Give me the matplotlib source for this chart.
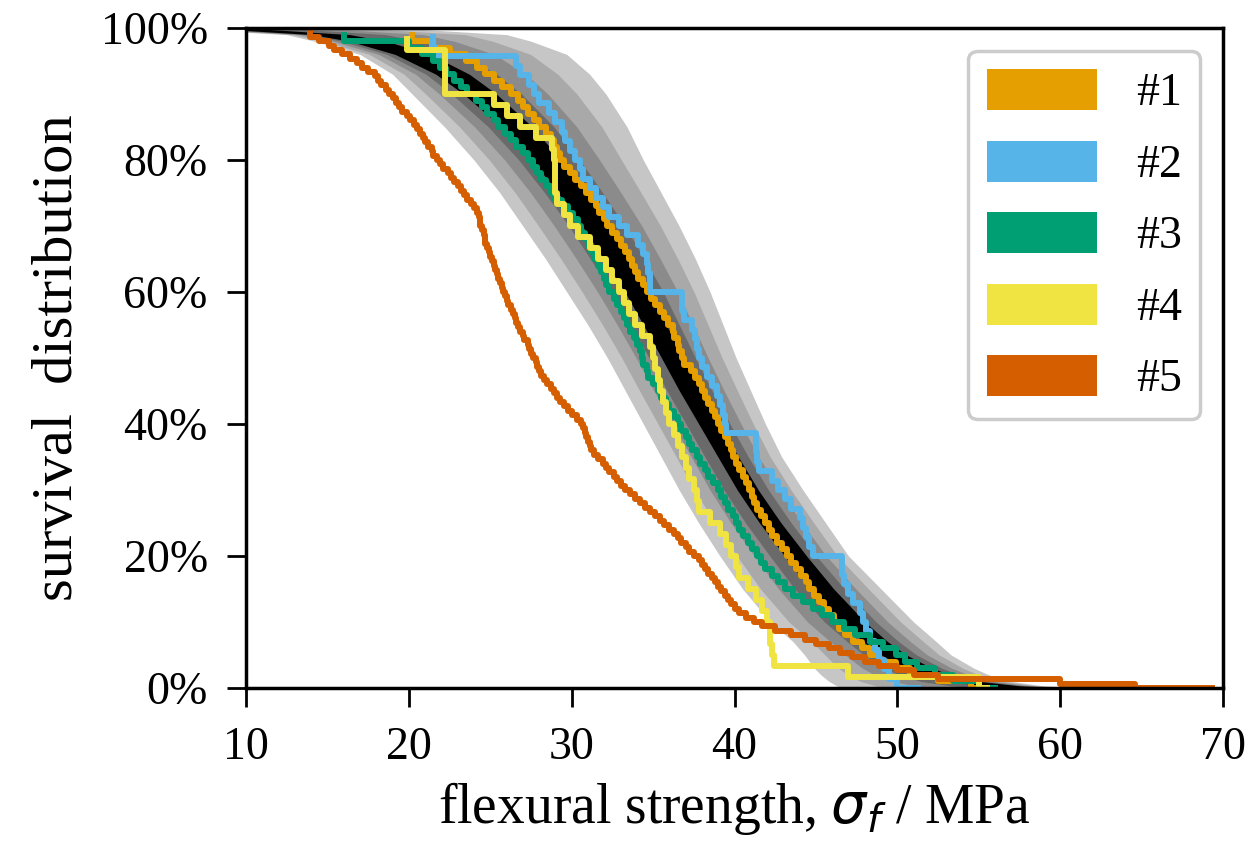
"""Survival distribution of flexural strength for five sample series,
drawn over grey Weibull confidence bands."""

import matplotlib

matplotlib.use("Agg")
import matplotlib.pyplot as plt
import numpy as np
from matplotlib.patches import Patch
from matplotlib.ticker import PercentFormatter

plt.rcParams["font.family"] = ["Liberation Serif", "DejaVu Serif"]
plt.rcParams["mathtext.fontset"] = "dejavusans"

# ---- confidence bands (x read at fixed survival levels) --------------------------
band_levels = [0.999, 0.99, 0.98, 0.96, 0.93, 0.90, 0.85, 0.80, 0.75, 0.70, 0.65, 0.60,
               0.55, 0.50, 0.45, 0.40, 0.35, 0.30, 0.25, 0.20, 0.15, 0.10, 0.07, 0.05,
               0.03, 0.02, 0.01, 0.003, 0.001]
band_center = [8.7, 14.4, 16.8, 19.6, 22.2, 24.0, 26.4, 28.3, 29.9, 31.4, 32.7, 34.0,
               35.1, 36.2, 37.3, 38.5, 39.7, 40.9, 42.3, 43.9, 45.5, 47.4, 48.8, 50.0,
               51.6, 52.8, 54.6, 57.3, 59.5]
band_upper = [20.0, 26.0, 27.5, 29.7, 31.1, 32.1, 33.4, 34.4, 35.5, 36.6, 37.6, 38.5,
              39.3, 40.1, 41.0, 41.9, 42.9, 44.2, 45.6, 47.0, 49.0, 51.0, 52.4, 53.3,
              54.7, 55.6, 57.0, 59.0, 61.0]
band_lower = [6.0, 12.5, 14.2, 17.0, 19.0, 20.2, 22.2, 24.0, 25.6, 27.0, 28.4, 29.7,
              31.0, 32.2, 33.3, 34.4, 35.5, 36.6, 37.8, 39.1, 40.5, 42.2, 43.6, 44.3,
              44.9, 45.3, 45.8, 46.3, 46.6]

# ---- measured strengths per series (MPa, sorted) ---------------------------------
series_labels = ["#1", "#2", "#3", "#4", "#5"]

strength_1 = [20.2, 21.4, 22.5, 23.5, 24.2, 24.7, 25.2, 25.7, 26.3,
              26.7, 27.0, 27.3, 27.7, 28.0, 28.4, 28.7, 28.9, 29.1, 29.3,
              29.5, 29.9, 30.2, 30.6, 30.9, 31.2, 31.5, 31.7, 32.0, 32.2,
              32.5, 32.8, 33.0, 33.3, 33.5, 33.7, 33.9, 34.1, 34.4, 34.6,
              34.9, 35.1, 35.4, 35.7, 35.9, 36.2, 36.3, 36.5, 36.6, 36.8,
              36.9, 37.3, 37.6, 37.8, 38.0, 38.2, 38.4, 38.6, 38.8, 39.0,
              39.2, 39.4, 39.6, 39.8, 39.9, 40.1, 40.3, 40.5, 40.7, 40.9,
              41.1, 41.2, 41.4, 41.6, 41.9, 42.1, 42.3, 42.6, 42.9, 43.2,
              43.5, 43.8, 44.1, 44.4, 44.6, 44.9, 45.2, 45.5, 45.8, 46.1,
              46.4, 46.8, 47.3, 47.8, 48.3, 48.9, 49.9, 50.8, 52.5, 54.5, 55.5]

strength_2 = [21.5, 21.6, 26.6, 26.8, 27.4, 27.7, 28.0, 28.6, 29.0,
              29.4, 29.6, 29.9, 30.2, 30.5, 30.7, 31.1, 31.5, 31.9, 32.3,
              32.9, 33.4, 34.1, 34.4, 34.6, 34.7, 34.8, 34.8, 36.8, 36.8,
              36.9, 37.4, 37.6, 37.7, 37.8, 38.0, 38.3, 38.6, 38.9, 39.1,
              39.3, 39.4, 39.5, 41.3, 41.3, 41.4, 41.5, 42.3, 42.7, 43.1,
              43.5, 44.0, 44.2, 44.4, 44.6, 44.8, 46.6, 46.6, 46.7, 47.0,
              47.3, 47.7, 47.9, 48.1, 48.3, 48.6, 48.9, 49.2, 49.5, 50.0, 51.3]

strength_3 = [16.0, 20.0, 20.8, 21.5, 21.9, 22.3, 22.8, 23.2, 23.6,
              24.1, 24.5, 24.8, 25.2, 25.5, 25.9, 26.3, 26.6, 27.0, 27.3,
              27.6, 27.9, 28.1, 28.4, 28.7, 29.0, 29.4, 29.8, 30.1, 30.4,
              30.6, 30.8, 31.0, 31.2, 31.4, 31.6, 31.8, 32.0, 32.1, 32.3,
              32.6, 32.8, 33.0, 33.2, 33.4, 33.6, 33.8, 34.0, 34.2, 34.3,
              34.4, 34.6, 34.7, 35.0, 35.3, 35.5, 35.8, 36.0, 36.3, 36.5,
              36.7, 37.0, 37.2, 37.4, 37.7, 37.9, 38.2, 38.4, 38.7, 39.0,
              39.2, 39.4, 39.6, 39.9, 40.1, 40.3, 40.5, 40.8, 41.1, 41.4,
              41.6, 41.9, 42.3, 42.7, 43.1, 43.6, 44.2, 44.8, 45.4, 46.0,
              46.7, 47.4, 48.3, 49.1, 49.9, 50.5, 51.2, 52.3, 53.4, 55.0, 56.0]

strength_4 = [19.9, 22.2, 22.2, 22.2, 22.2, 25.2, 26.0, 26.8, 27.8,
              28.8, 28.9, 29.0, 29.0, 29.0, 29.1, 29.5, 29.9, 30.4, 31.1,
              31.6, 32.1, 32.5, 32.9, 33.2, 33.5, 33.9, 34.3, 34.8, 35.0,
              35.1, 35.3, 35.4, 35.6, 35.8, 36.0, 36.3, 36.5, 36.8, 37.0,
              37.2, 37.5, 37.7, 37.8, 38.5, 39.1, 39.5, 39.8, 40.1, 40.3,
              40.8, 41.3, 41.7, 42.0, 42.2, 42.2, 42.3, 42.4, 47.0, 55.0, 55.5]

strength_5 = [13.9, 14.5, 15.1, 15.4, 15.9, 16.4, 16.8, 17.1, 17.5, 17.9,
              18.1, 18.3, 18.6, 18.8, 19.0, 19.2, 19.4, 19.6, 19.9, 20.1,
              20.3, 20.5, 20.7, 20.9, 21.0, 21.2, 21.4, 21.5, 21.7, 21.9,
              22.1, 22.4, 22.6, 22.8, 23.0, 23.2, 23.4, 23.6, 23.8, 24.0,
              24.2, 24.3, 24.4, 24.4, 24.5, 24.6, 24.7, 24.7, 24.8, 24.9,
              25.0, 25.1, 25.2, 25.3, 25.4, 25.5, 25.6, 25.7, 25.8, 25.9,
              26.0, 26.1, 26.3, 26.4, 26.5, 26.6, 26.7, 26.8, 27.0, 27.1,
              27.3, 27.4, 27.5, 27.6, 27.8, 27.9, 28.0, 28.1, 28.3, 28.5,
              28.7, 28.9, 29.1, 29.3, 29.5, 29.8, 30.0, 30.3, 30.6, 30.7,
              30.8, 30.9, 31.0, 31.1, 31.2, 31.4, 31.6, 31.9, 32.1, 32.3,
              32.6, 32.8, 33.0, 33.3, 33.6, 33.9, 34.2, 34.5, 34.8, 35.1,
              35.4, 35.7, 36.0, 36.3, 36.5, 36.7, 37.0, 37.2, 37.5, 37.8,
              38.0, 38.2, 38.4, 38.6, 38.8, 39.0, 39.2, 39.4, 39.6, 39.8,
              40.0, 40.3, 40.7, 41.2, 41.7, 42.5, 43.5, 44.3, 45.0, 45.8,
              46.5, 47.2, 48.0, 48.9, 50.0, 51.0, 52.5, 60.0, 64.6, 69.3]

# ---- style ----------------------------------------------------------------------
SERIES_COLORS = ["#E69F00", "#56B4E9", "#009E73", "#F0E442", "#D55E00"]
BAND_FRACS = [1.0, 0.78, 0.56, 0.36, 0.17]
BAND_COLORS = ["#c6c6c6", "#a9a9a9", "#8b8b8b", "#6a6a6a", "#000000"]
FS = 33
FS_LABEL = 40

fig = plt.figure(figsize=(12.59, 8.46), dpi=100)
ax = fig.add_axes([0.1954, 0.1868, 0.7760, 0.7801])

lv = np.array(band_levels)
c = np.array(band_center)
for frac, col in zip(BAND_FRACS, BAND_COLORS):
    lo = c + frac * (np.array(band_lower) - c)
    hi = c + frac * (np.array(band_upper) - c)
    ax.fill_betweenx(lv, lo, hi, color=col, linewidth=0, zorder=1)

all_strengths = [strength_1, strength_2, strength_3, strength_4, strength_5]
for vals, col in zip(all_strengths, SERIES_COLORS):
    x = np.sort(np.array(vals))
    n = len(x)
    surv = 1 - np.arange(1, n + 1) / n
    ax.step(x, surv, where="pre", color=col, linewidth=4.3, zorder=3)

ax.set_xlim(10, 70)
ax.set_ylim(0, 1)
ax.set_xticks([10, 20, 30, 40, 50, 60, 70])
ax.set_yticks([0, 0.2, 0.4, 0.6, 0.8, 1.0])
ax.yaxis.set_major_formatter(PercentFormatter(1.0, decimals=0))
ax.tick_params(direction="out", length=13.5, width=2, labelsize=FS, pad=14)
for sp in ax.spines.values():
    sp.set_linewidth(2.5)
    sp.set_zorder(5)

ax.set_xlabel("flexural strength, $\\sigma_f$ / MPa", fontsize=FS_LABEL, labelpad=8)
ax.set_ylabel("survival  distribution", fontsize=FS_LABEL + 2, labelpad=12)

handles = [Patch(facecolor=col, edgecolor="none", label=lab)
           for col, lab in zip(SERIES_COLORS, series_labels)]
leg = ax.legend(handles=handles, loc="upper right", fontsize=FS, handlelength=2.4,
                handleheight=1.0, handletextpad=0.85, labelspacing=0.55,
                fancybox=True, framealpha=1, edgecolor="#cccccc")
leg.get_frame().set_linewidth(2.5)

fig.savefig("out.png", dpi=100, facecolor="white")
